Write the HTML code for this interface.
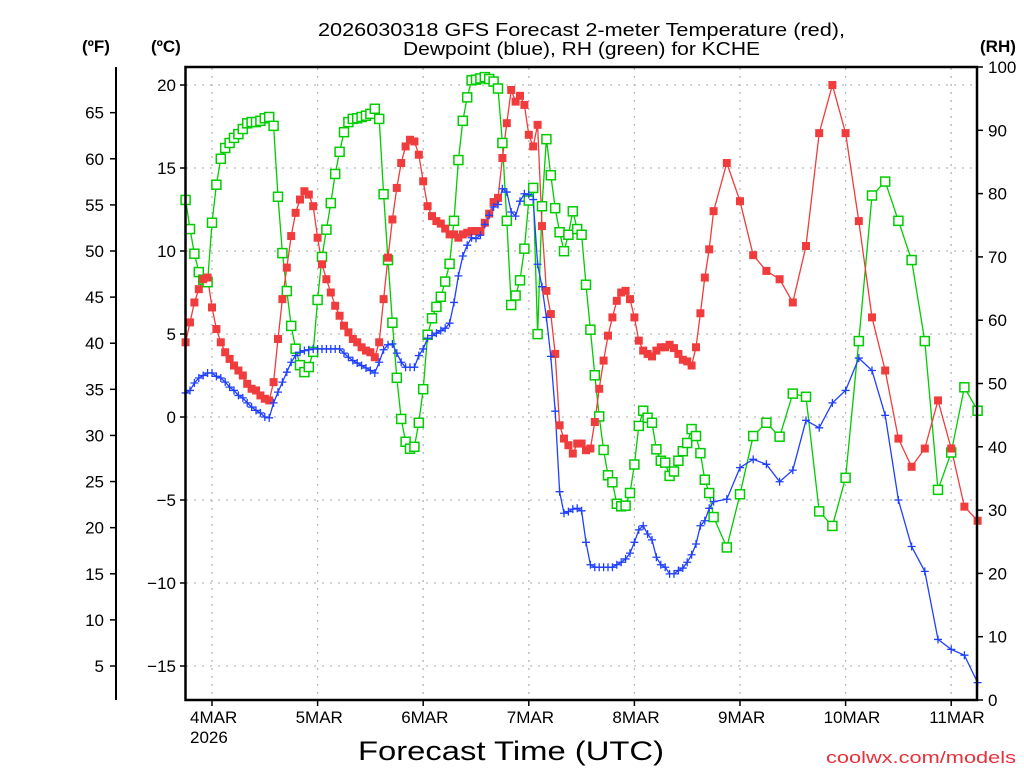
<!DOCTYPE html>
<html><head><meta charset="utf-8"><style>
body{margin:0;background:#fff}
svg{display:block;font-family:"Liberation Sans",sans-serif}
</style></head><body>
<svg id="chart" width="1024" height="768" viewBox="0 0 1024 768">
<rect x="0" y="0" width="1024" height="768" fill="#fff"/>
<g id="grid"></g>
<g id="series"></g>
<rect x="185.5" y="67" width="791.5" height="633" fill="none" stroke="#000" stroke-width="2.5"/>
<line x1="116" y1="67" x2="116" y2="700" stroke="#000" stroke-width="2"/>
<g id="axes" font-size="17" fill="#000"></g>
<text x="318" y="36" font-size="18" textLength="527" lengthAdjust="spacingAndGlyphs">2026030318 GFS Forecast 2-meter Temperature (red),</text>
<text x="403" y="55" font-size="18" textLength="357" lengthAdjust="spacingAndGlyphs">Dewpoint (blue), RH (green) for KCHE</text>
<text x="82" y="52" font-size="17" font-weight="bold">(ºF)</text>
<text x="151" y="52" font-size="17" font-weight="bold">(ºC)</text>
<text x="980" y="52" font-size="17" font-weight="bold">(RH)</text>
<text x="358" y="760" font-size="27" textLength="306" lengthAdjust="spacingAndGlyphs">Forecast Time (UTC)</text>
<text x="826" y="763" font-size="17" fill="#e8303a" textLength="190" lengthAdjust="spacingAndGlyphs">coolwx.com/models</text>
</svg>
<script>
// hours after 2026-03-03 18Z
const tHours = [0,1,2,3,4,5,6,7,8,9,10,11,12,13,14,15,16,17,18,19,20,21,22,23,24,25,26,27,28,29,30,31,32,33,34,35,36,37,38,39,40,41,42,43,44,45,46,47,48,49,50,51,52,53,54,55,56,57,58,59,60,61,62,63,64,65,66,67,68,69,70,71,72,73,74,75,76,77,78,79,80,81,82,83,84,85,86,87,88,89,90,91,92,93,94,95,96,97,98,99,100,101,102,103,104,105,106,107,108,109,110,111,112,113,114,115,116,117,118,119,120,123,126,129,132,135,138,141,144,147,150,153,156,159,162,165,168,171,174,177,180];
const tempC = [4.5,5.7,6.9,7.7,8.3,8.4,6.6,5.3,4.5,3.9,3.5,3.1,2.8,2.5,2.0,1.7,1.6,1.3,1.1,1.0,2.1,4.7,7.1,9.0,10.9,12.3,13.1,13.6,13.4,12.7,10.8,9.2,8.3,7.5,6.7,6.1,5.5,5.1,4.7,4.5,4.2,4.0,3.9,3.6,4.5,7.1,9.6,11.9,13.8,15.3,16.3,16.7,16.6,15.8,14.2,12.7,12.1,11.8,11.65,11.35,11.0,11.0,10.8,11.0,11.1,11.2,11.2,11.2,11.7,12.25,12.95,13.2,15.6,17.7,19.7,19.0,19.35,18.8,17.0,16.3,17.6,11.5,7.6,6.2,3.8,-0.5,-1.3,-1.7,-2.2,-1.6,-1.6,-2.0,-1.9,-0.3,1.7,3.4,4.9,6.0,7.0,7.5,7.6,7.1,6.0,4.6,4.0,3.8,3.65,4.0,4.2,4.2,4.35,4.15,3.8,3.45,3.35,3.1,4.2,6.25,8.4,10.1,12.4,15.3,13.0,9.75,8.8,8.3,6.9,10.3,17.1,20.0,17.1,11.8,6.0,2.8,-1.3,-3.0,-1.9,1.0,-1.9,-5.4,-6.25];
const dewC = [1.45,1.6,2.05,2.35,2.5,2.65,2.65,2.45,2.35,2.1,1.8,1.6,1.3,1.15,0.85,0.6,0.4,0.25,0,-0.05,0.85,1.5,2.1,2.7,3.3,3.7,3.9,4.0,4.05,4.1,4.1,4.1,4.1,4.1,4.1,4.1,3.85,3.6,3.4,3.25,3.1,2.95,2.8,2.65,3.3,4.05,4.35,4.4,3.85,3.3,3.0,3.0,3.0,3.7,4.1,4.75,4.9,5.05,5.2,5.35,5.65,6.9,8.5,9.7,10.35,10.8,10.75,10.95,11.6,12.15,12.65,12.8,13.75,13.55,12.35,12.1,13.0,13.45,13.4,13.1,9.2,7.85,6.0,3.65,0.35,-4.5,-5.8,-5.7,-5.55,-5.5,-5.65,-7.55,-8.9,-9.05,-9.05,-9.05,-9.05,-9.05,-8.9,-8.75,-8.55,-8.2,-7.55,-6.8,-6.55,-7.05,-7.4,-8.45,-8.9,-9.05,-9.45,-9.45,-9.25,-9.1,-8.75,-8.3,-7.65,-6.55,-6.25,-5.5,-5.1,-4.95,-3.05,-2.55,-2.85,-3.9,-3.2,-0.2,-0.65,0.85,1.6,3.55,2.8,0.1,-5.0,-7.8,-9.3,-13.4,-14.0,-14.35,-16.0];
const rhPct = [79.0,74.4,70.5,67.6,66.4,66.0,75.4,81.4,85.5,87.2,88.0,88.8,89.4,90.2,91.1,91.3,91.3,91.5,91.9,92.1,90.7,79.5,70.6,64.6,59.1,55.5,52.9,51.8,52.6,55.0,63.2,70.0,74.3,78.5,83.1,86.6,89.7,91.3,91.8,91.9,92.1,92.3,92.6,93.4,91.8,79.9,69.5,59.6,50.9,44.4,40.8,39.7,40.0,43.8,49.1,57.7,60.3,62.1,63.7,66.1,68.9,75.7,85.3,91.5,95.2,97.9,98.0,98.2,98.4,98.1,97.7,96.6,88.0,75.7,62.4,63.9,66.3,71.3,78.9,80.9,57.8,78.0,88.6,82.9,77.7,73.9,70.9,73.5,77.2,74.4,73.5,65.6,58.5,51.3,44.8,39.5,35.5,34.4,31.0,30.6,30.7,32.7,37.2,43.3,45.7,44.6,43.8,39.6,37.8,37.5,35.4,36.1,37.8,39.3,40.6,42.8,41.7,39.0,34.8,32.7,28.9,24.1,32.5,41.7,43.8,41.6,48.4,47.9,29.8,27.5,35.1,56.7,79.7,81.9,75.7,69.5,56.7,33.2,39.1,49.4,45.7];
const cTicks = [20,15,10,5,0,-5,-10,-15];
const fTicks = [65,60,55,50,45,40,35,30,25,20,15,10,5];
const rhTicks = [100,90,80,70,60,50,40,30,20,10,0];
const dayLabels = ["4MAR","5MAR","6MAR","7MAR","8MAR","9MAR","10MAR","11MAR"];
const dayHours = [6,30,54,78,102,126,150,174];

const NS="http://www.w3.org/2000/svg";
const X0=185.6, PXH=4.4;
const xOf=h=>X0+h*PXH;
const yC=c=>85+(20-c)*16.6;
const yF=f=>yC((f-32)/1.8);
const yRH=r=>700-r*6.33;
function mk(tag,attrs,parent){const e=document.createElementNS(NS,tag);for(const k in attrs)e.setAttribute(k,attrs[k]);parent.appendChild(e);return e;}
const grid=document.getElementById('grid'), axes=document.getElementById('axes'), ser=document.getElementById('series');

cTicks.forEach(c=>{
  const y=yC(c);
  const g=mk('line',{x1:186,x2:977,y1:y,y2:y,stroke:'#b8b8b8','stroke-width':1.3,'stroke-dasharray':'2 6'},grid);
  
  
  const t=mk('line',{x1:180,x2:186,y1:y,y2:y,stroke:'#000','stroke-width':1.5},axes);
  
  
  const l=mk('text',{x:176,y:y+6,'text-anchor':'end'},axes);
  l.textContent=c<0?'\u2212'+Math.abs(c):String(c);
  
  
});
fTicks.forEach(f=>{
  const y=yF(f);
  const t=mk('line',{x1:110,x2:116,y1:y,y2:y,stroke:'#000','stroke-width':1.5},axes);
  
  
  const l=mk('text',{x:104,y:y+6,'text-anchor':'end'},axes);
  l.textContent=String(f);
  
  
});
rhTicks.forEach(r=>{
  const y=yRH(r);
  const t=mk('line',{x1:977,x2:983,y1:y,y2:y,stroke:'#000','stroke-width':1.5},axes);
  
  
  const l=mk('text',{x:988,y:y+6},axes);
  l.textContent=String(r);
  
  
});
dayLabels.forEach((d,i)=>{
  const x=xOf(dayHours[i]);
  const g=mk('line',{x1:x,x2:x,y1:68,y2:700,stroke:'#b8b8b8','stroke-width':1.3,'stroke-dasharray':'2 6'},grid);
  
  
  const t=mk('line',{x1:x,x2:x,y1:700,y2:706,stroke:'#000','stroke-width':1.5},axes);
  
  
  const l=mk('text',{x:x-22,y:723},axes);
  l.textContent=d;
  
  
});
const yr=mk('text',{x:xOf(dayHours[0])-22,y:743},axes);
yr.textContent='2026';



function drawLine(vals,yfn,color,name){
  const pts=vals.map((v,i)=>xOf(tHours[i]).toFixed(1)+','+yfn(v).toFixed(1)).join(' ');
  const p=mk('polyline',{points:pts,fill:'none',stroke:color,'stroke-width':1.3},ser);
  
  
}
drawLine(rhPct,yRH,'#00cc00','rh-line');
drawLine(tempC,yC,'#f03c3c','temperature-line');
drawLine(dewC,yC,'#2040ff','dewpoint-line');
rhPct.forEach((v,i)=>{
  const m=mk('rect',{x:xOf(tHours[i])-4.5,y:yRH(v)-4.5,width:9,height:9,fill:'#fff',stroke:'#00cc00','stroke-width':1.5},ser);
  
  
});
tempC.forEach((v,i)=>{
  const m=mk('rect',{x:xOf(tHours[i])-4,y:yC(v)-4,width:8,height:8,fill:'#f03c3c'},ser);
  
  
});
dewC.forEach((v,i)=>{
  const x=xOf(tHours[i]), y=yC(v);
  const m=mk('path',{d:`M${x-4},${y}H${x+4}M${x},${y-4}V${y+4}`,stroke:'#2040ff','stroke-width':1.3,fill:'none'},ser);
  
  
});
</script>
</body></html>
